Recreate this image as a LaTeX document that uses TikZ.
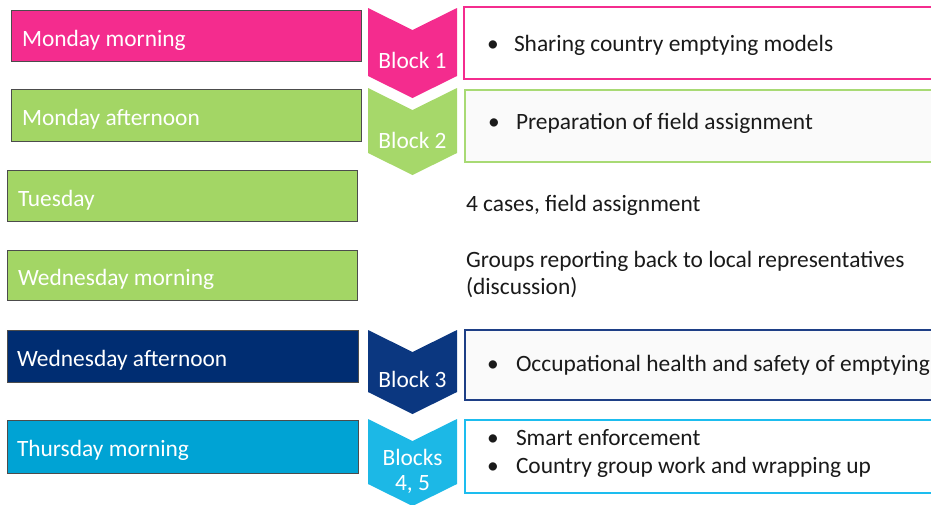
\documentclass[tikz,border=0pt]{standalone}
\usepackage{fontspec}
\setmainfont{Carlito}
\definecolor{cpink}{HTML}{F42C8E}
\definecolor{cgreen}{HTML}{A3D665}
\definecolor{cgreenb}{HTML}{A6D86A}
\definecolor{cnavy}{HTML}{002D72}
\definecolor{cnavyb}{HTML}{0B3780}
\definecolor{cnavyl}{HTML}{1E3F86}
\definecolor{ccyan}{HTML}{00A3D4}
\definecolor{ccyanb}{HTML}{1CB8E6}
\definecolor{ccyanl}{HTML}{1DBDEF}
\definecolor{cgreenl}{HTML}{A8DA74}
\definecolor{ctext}{HTML}{1A1A1A}
\definecolor{cfill}{HTML}{FAFAFA}
\begin{document}
\begin{tikzpicture}[x=1pt,y=-1pt,
  every node/.style={inner sep=0pt,outer sep=0pt,font=\fontsize{23.4}{28}\selectfont},
  daybox/.style={draw=black!70,line width=0.8pt,rectangle,anchor=north west},
  daytext/.style={anchor=base west,text=white},
  infobox/.style={line width=2pt,rectangle,anchor=north west},
  infotext/.style={anchor=base west,text=ctext},
  blocktext/.style={anchor=base,text=white,align=center}
]
\useasboundingbox (0,0) rectangle (931,504);
\begin{scope}
\clip (0,0) rectangle (931,504);
% left day boxes
\node[daybox,fill=cpink,minimum width=350pt,minimum height=51pt] (d1) at (11,10) {};
\node[daybox,fill=cgreen,minimum width=350pt,minimum height=52pt] (d2) at (11,89) {};
\node[daybox,fill=cgreen,minimum width=350pt,minimum height=51pt] (d3) at (7,170) {};
\node[daybox,fill=cgreen,minimum width=350pt,minimum height=50pt] (d4) at (7,250) {};
\node[daybox,fill=cnavy,minimum width=351pt,minimum height=52pt] (d5) at (7,330) {};
\node[daybox,fill=ccyan,minimum width=351pt,minimum height=53pt] (d6) at (7,420) {};
\node[daytext] (t1) at (22,46) {Monday morning};
\node[daytext] (t2) at (22,125) {Monday afternoon};
\node[daytext] (t3) at (18,206) {Tuesday};
\node[daytext] (t4) at (18,285) {Wednesday morning};
\node[daytext] (t5) at (17,366) {Wednesday afternoon};
\node[daytext] (t6) at (17,456) {Thursday morning};
% chevrons
\newcommand{\mychev}[3]{%
  \fill[#3] (368,#1) -- (412.5,#1+22) -- (457,#1) -- (457,#2) -- (412.5,#2+22) -- (368,#2) -- cycle;}
\mychev{8}{76}{cpink}
\mychev{88}{153}{cgreenb}
\mychev{330}{392}{cnavyb}
\mychev{419}{484}{ccyanb}
\node[blocktext] (b1) at (412.5,68) {Block 1};
\node[blocktext] (b2) at (412.5,148) {Block 2};
\node[blocktext] (b3) at (412.5,387) {Block 3};
\node[blocktext] (b4) at (412.5,465) {Blocks};
\node[blocktext] (b5) at (412.5,490) {4, 5};
% right boxes
\node[infobox,draw=cpink,fill=white,minimum width=490pt,minimum height=72pt] (r1) at (464,7) {};
\node[infobox,draw=cgreenl,fill=cfill,minimum width=490pt,minimum height=72pt] (r2) at (465,90) {};
\node[infobox,draw=cnavyl,fill=cfill,minimum width=490pt,minimum height=70pt] (r3) at (465,330) {};
\node[infobox,draw=ccyanl,fill=white,minimum width=490pt,minimum height=73pt] (r4) at (465,420) {};
\node[infotext] (u1) at (487,51) {\textbullet};
\node[infotext] (s1) at (514,51) {Sharing country emptying models};
\node[infotext] (u2) at (488,129) {\textbullet};
\node[infotext] (s2) at (516,129) {Preparation of field assignment};
\node[infotext] (s3) at (466,211) {4 cases, field assignment};
\node[infotext] (s4) at (466,267) {Groups reporting back to local representatives};
\node[infotext] (s5) at (466,294) {(discussion)};
\node[infotext] (u3) at (487,371) {\textbullet};
\node[infotext] (s6) at (516,371) {Occupational health and safety of emptying};
\node[infotext] (u4) at (487,445) {\textbullet};
\node[infotext] (s7) at (516,445) {Smart enforcement};
\node[infotext] (u5) at (487,473) {\textbullet};
\node[infotext] (s8) at (516,473) {Country group work and wrapping up};
\end{scope}
\end{tikzpicture}
\end{document}
